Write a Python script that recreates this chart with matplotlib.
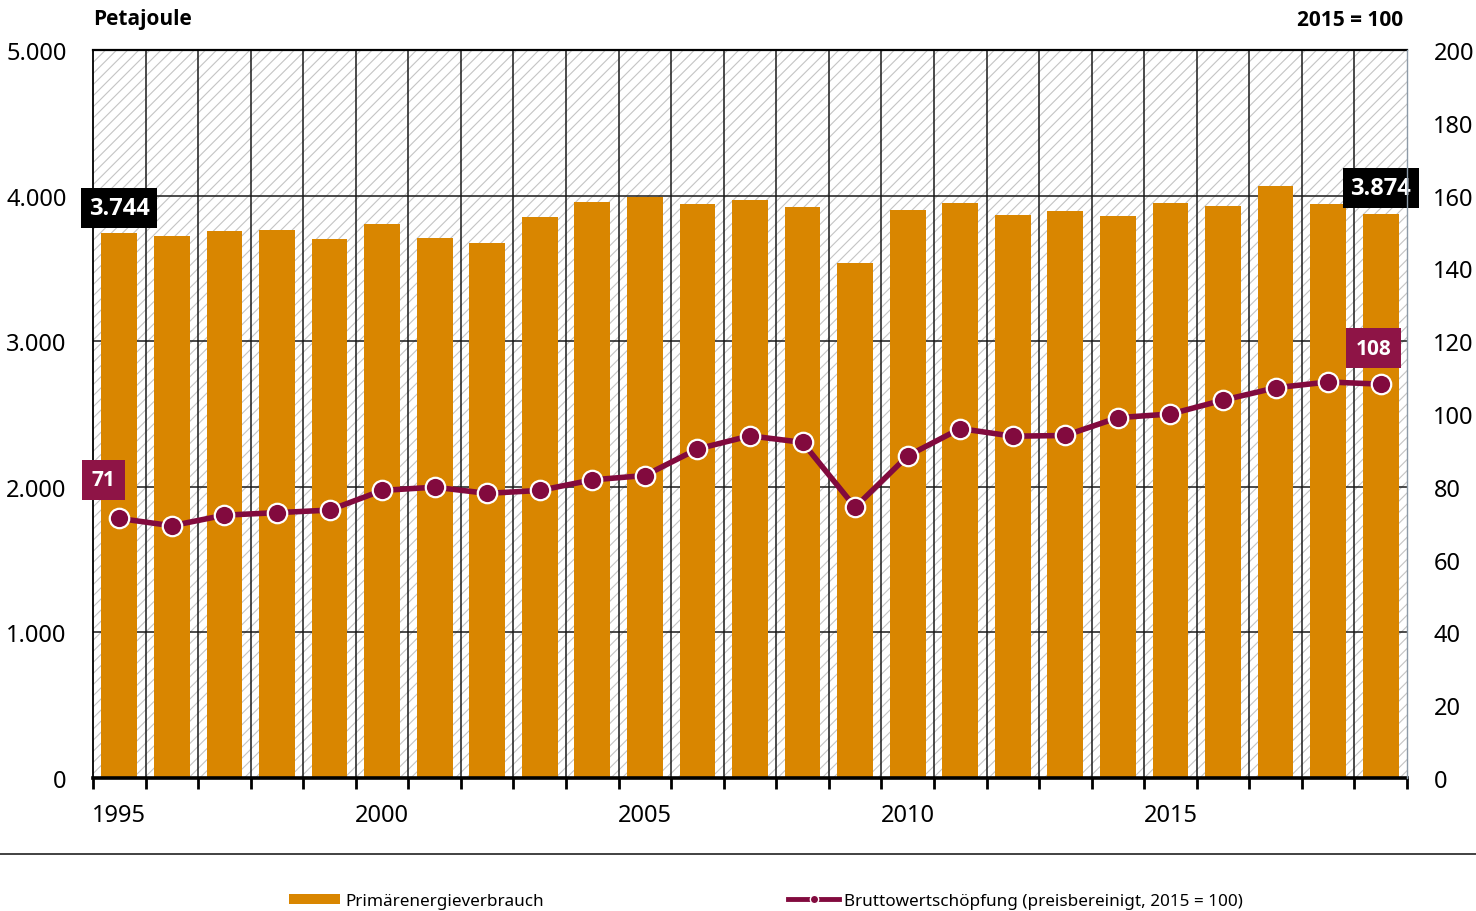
import matplotlib
matplotlib.use("Agg")
import matplotlib.pyplot as plt
from matplotlib.patches import Rectangle, Patch
from matplotlib.lines import Line2D
from matplotlib.ticker import FuncFormatter

# values
years = list(range(1995, 2020))
primary_energy = [3744, 3725, 3757, 3762, 3702, 3805, 3707, 3674, 3855, 3956,
                  3990, 3942, 3970, 3922, 3537, 3903, 3947, 3867, 3894, 3862,
                  3947, 3929, 4064, 3942, 3874]
gross_value_added = [71.3, 69.3, 72.2, 72.9, 73.6, 79.0, 79.9, 78.2, 79.0, 81.9,
                     83.1, 90.4, 94.0, 92.2, 74.4, 88.5, 96.0, 93.9, 94.1, 99.0,
                     100.0, 103.8, 107.2, 108.8, 108.2]
year_labels = [1995, 2000, 2005, 2010, 2015]
left_ticks = [0, 1000, 2000, 3000, 4000, 5000]
right_ticks = list(range(0, 201, 20))

ORANGE = "#d98600"
MAROON = "#820a3e"
MAROON_BOX = "#8e1446"
BOLD = ["Open Sans", "DejaVu Sans"]

plt.rcParams["font.family"] = ["Noto Sans", "DejaVu Sans"]
plt.rcParams["hatch.color"] = "#c4c4c4"
plt.rcParams["hatch.linewidth"] = 0.8


def de_fmt(v, _pos=None):
    return f"{v:,.0f}".replace(",", ".")


fig = plt.figure(figsize=(14.76, 9.12), dpi=100)
ax = fig.add_axes([93 / 1476, 1 - 779 / 912, (1407 - 93) / 1476, (779 - 51) / 912])

# hatched plot background
ax.add_patch(Rectangle((0, 0), 1, 1, transform=ax.transAxes, facecolor="white",
                       edgecolor="#c4c4c4", hatch="///", lw=0, zorder=0))

ax.bar(years, primary_energy, width=0.68, color=ORANGE, zorder=3)
ax.set_xlim(1994.5, 2019.5)
ax.set_ylim(0, 5000)
ax.set_yticks(left_ticks)
ax.yaxis.set_major_formatter(FuncFormatter(de_fmt))

for v in left_ticks[1:-1]:
    ax.axhline(v, color="#1a1a1a", lw=1.1, zorder=1)
for b in range(len(years) - 1):
    ax.axvline(years[b] + 0.5, color="#1a1a1a", lw=1.1, zorder=1)

ax.set_xticks(year_labels)
ax.set_xticks([y - 0.5 for y in years] + [years[-1] + 0.5], minor=True)
ax.tick_params(axis="x", which="major", length=0, pad=18, labelsize=17)
ax.tick_params(axis="x", which="minor", length=8, width=2, direction="out",
               color="black")
ax.tick_params(axis="y", length=0, pad=19, labelsize=17)

ax.spines["right"].set_visible(False)
ax.spines["top"].set_linewidth(1.6)
ax.spines["left"].set_linewidth(1.3)
ax.spines["bottom"].set_linewidth(2.6)
ax.spines["bottom"].set_zorder(5)

ax2 = ax.twinx()
ax2.set_ylim(0, 200)
ax2.set_yticks(right_ticks)
ax2.tick_params(axis="y", length=0, pad=19, labelsize=17)
for s in ["top", "left", "bottom"]:
    ax2.spines[s].set_visible(False)
ax2.spines["right"].set_color("#8c9aa8")
ax2.spines["right"].set_linewidth(1.0)
ax2.plot(years, gross_value_added, color=MAROON, lw=4, marker="o",
         markersize=14, markerfacecolor=MAROON, markeredgecolor="white",
         markeredgewidth=1.6, zorder=4)

# value boxes
box_black = dict(boxstyle="square,pad=0.32", fc="black", ec="none")
box_maroon = dict(boxstyle="square,pad=0.45", fc=MAROON_BOX, ec="none")
ax.text(years[0], 3915, de_fmt(primary_energy[0]), ha="center", va="center",
        color="white", fontsize=17, fontweight="bold", family=BOLD,
        bbox=box_black, zorder=6)
ax.text(years[-1], 4052, de_fmt(primary_energy[-1]), ha="center", va="center",
        color="white", fontsize=17, fontweight="bold", family=BOLD,
        bbox=box_black, zorder=6)
ax2.text(years[0] - 0.3, 81.9, f"{gross_value_added[0]:.0f}", ha="center",
         va="center", color="white", fontsize=15, fontweight="bold", family=BOLD,
         bbox=box_maroon, zorder=6)
ax2.text(years[-1] - 0.14, 118.1, f"{gross_value_added[-1]:.0f}", ha="center",
         va="center", color="white", fontsize=15, fontweight="bold", family=BOLD,
         bbox=box_maroon, zorder=6)

fig.text(93 / 1476, 1 - 19 / 912, "Petajoule", ha="left", va="center",
         fontsize=15, fontweight="bold", family=BOLD)
fig.text(1403 / 1476, 1 - 20 / 912, "2015 = 100", ha="right", va="center",
         fontsize=15, fontweight="bold", family=BOLD)

fig.add_artist(Line2D([0, 1], [1 - 855 / 912] * 2, transform=fig.transFigure,
                      color="#333333", lw=1.3))

handles = [
    Patch(facecolor=ORANGE, edgecolor="none"),
    Line2D([], [], color=MAROON, lw=3.5, marker="o", markersize=6,
           markerfacecolor=MAROON, markeredgecolor="white", markeredgewidth=1),
]
labels = ["Primärenergieverbrauch", "Bruttowertschöpfung (preisbereinigt, 2015 = 100)"]
fig.legend(handles, labels, loc="center", bbox_to_anchor=(766 / 1476, 1 - 902 / 912),
           ncol=2, frameon=False, fontsize=12.3, handlelength=3.0, handleheight=0.6,
           handletextpad=0.3, columnspacing=14.3)

fig.savefig("out.png", dpi=100)
